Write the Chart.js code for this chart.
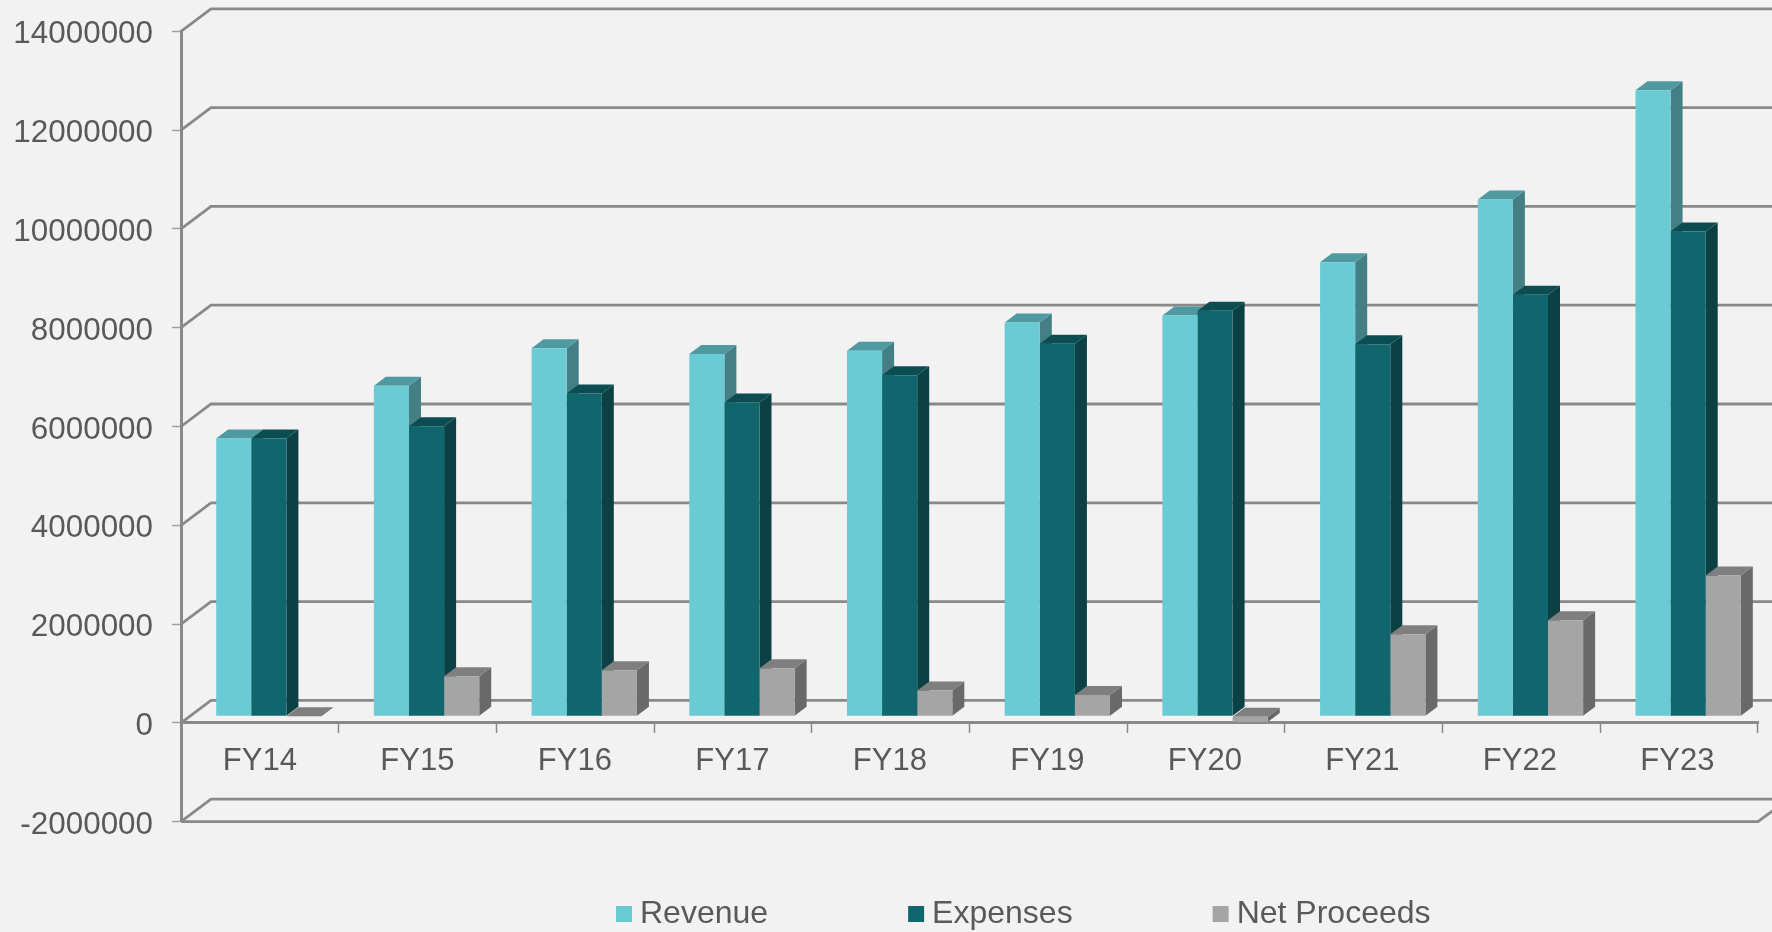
<!DOCTYPE html>
<html>
<head>
<meta charset="utf-8">
<style>
html,body{margin:0;padding:0;background:#f2f2f2;}
#wrap{width:1772px;height:932px;position:relative;}
canvas{display:block;}
</style>
<script src="https://cdn.jsdelivr.net/npm/chart.js@4/dist/chart.umd.min.js"></script>
</head>
<body>
<div id="wrap"><canvas id="c" width="1772" height="932"></canvas></div>
<script>
const categories = ['FY14','FY15','FY16','FY17','FY18','FY19','FY20','FY21','FY22','FY23'];
const revenue  = [5620000,6690000,7450000,7330000,7400000,7970000,8110000,9190000,10460000,12670000];
const expenses = [5620000,5870000,6530000,6350000,6900000,7540000,8210000,7530000,8530000,9810000];
const netProceeds = [0,810000,930000,970000,520000,430000,-115000,1660000,1940000,2850000];
const seriesNames = ['Revenue','Expenses','Net Proceeds'];
const frontColors = ['#6acbd5','#10666c','#a5a5a5'];
const topColors   = ['#4f9aa1','#0c4d52','#7f7f7f'];
const sideColors  = ['#437f85','#0b4145','#696969'];
const yMin = -2000000, yMax = 14000000, yStep = 2000000;

const TEXT = '#595959', LINE = '#898989';
const wall = {dx:30, dy:-22.5};      // depth of the chart's floor and back wall
const barOffset = {dx:9, dy:-6.7};   // where the bars' front face sits inside that depth
const barDepth = {dx:12, dy:9};

function poly(ctx, pts, fill){
  ctx.beginPath();
  pts.forEach((p,i)=> i ? ctx.lineTo(p[0],p[1]) : ctx.moveTo(p[0],p[1]));
  ctx.closePath();
  ctx.fillStyle = fill;
  ctx.fill();
}

const depth3d = {
  id:'depth3d',
  beforeDraw(chart){
    const {ctx, scales:{x,y}} = chart;
    // centre the tick numbers' digits on their tick marks
    y.getLabelItems().forEach(it=>{ it.options.translation[1] += 3.5; });
    x.getLabelItems().forEach((it,i)=>{ it.options.translation[0] -= 0.2*i; });
    ctx.save();
    ctx.strokeStyle = LINE;
    ctx.lineWidth = 2.8;
    ctx.lineJoin = 'miter';
    const L = x.left, R = x.right;
    y.ticks.forEach(t=>{
      const py = y.getPixelForValue(t.value);
      ctx.beginPath();
      ctx.moveTo(L,py);
      ctx.lineTo(L+wall.dx,py+wall.dy);
      ctx.lineTo(R+wall.dx,py+wall.dy);
      ctx.stroke();
    });
    // front edge and right edge of the lowest floor
    const py = y.getPixelForValue(yMin);
    ctx.beginPath();
    ctx.moveTo(L,py);
    ctx.lineTo(R,py);
    ctx.lineTo(R+wall.dx,py+wall.dy);
    ctx.stroke();
    ctx.restore();
  },
  beforeDatasetsDraw(chart){
    const {ctx} = chart;
    categories.forEach((_,i)=>{
      chart.data.datasets.forEach((ds,d)=>{
        const el = chart.getDatasetMeta(d).data[i];
        const w = el.width/2;
        const l = el.x-w+barOffset.dx, r = el.x+w+barOffset.dx;
        const top = Math.min(el.y,el.base)+barOffset.dy;
        const bot = Math.max(el.y,el.base)+barOffset.dy;
        const ddx = barDepth.dx, ddy = barDepth.dy;
        poly(ctx,[[r,top],[r+ddx,top-ddy],[r+ddx,bot-ddy],[r,bot]],sideColors[d]);
        poly(ctx,[[l,top],[l+ddx,top-ddy],[r+ddx,top-ddy],[r,top]],topColors[d]);
      });
    });
    ctx.save();
    ctx.translate(barOffset.dx,barOffset.dy);
  },
  afterDatasetsDraw(chart){
    chart.ctx.restore();
  },
  afterLayout(chart){
    const lg = chart.legend;
    const p = lg.options.labels.padding;
    lg.top = 898 - p;
    lg.bottom = 932;
    lg.right = 1772;
    lg.left = 2*624 - p - lg.right + lg.lineWidths[0];
  }
};

new Chart(document.getElementById('c'),{
  type:'bar',
  plugins:[depth3d],
  data:{
    labels:categories,
    datasets:[revenue,expenses,netProceeds].map((vals,d)=>({
      label:seriesNames[d],
      data:vals,
      backgroundColor:frontColors[d],
      borderWidth:0,
      clip:false
    }))
  },
  options:{
    responsive:false,
    animation:false,
    categoryPercentage:0.668,
    barPercentage:1,
    layout:{padding:{top:31.3,right:14,bottom:0,left:0}},
    scales:{
      x:{
        position:{y:0},
        offset:true,
        grid:{drawOnChartArea:false,drawTicks:true,tickLength:9,tickWidth:1.5,tickColor:LINE,offset:true},
        border:{display:true,color:LINE,width:3},
        ticks:{color:TEXT,font:{family:'Liberation Sans',size:31},padding:11,maxRotation:0,autoSkip:false}
      },
      y:{
        min:yMin,max:yMax,
        afterFit(s){s.width=181;s.paddingTop=0;s.paddingBottom=0;},
        grid:{drawOnChartArea:false,drawTicks:true,tickLength:9,tickWidth:1.5,tickColor:'#a0a0a0'},
        border:{display:true,color:LINE,width:3},
        ticks:{stepSize:yStep,color:TEXT,font:{family:'Liberation Sans',size:31.4},padding:19,callback:v=>String(v)}
      }
    },
    plugins:{
      tooltip:{enabled:false},
      title:{display:false},
      legend:{
        display:true,
        position:'bottom',
        maxHeight:110.3,
        labels:{
          usePointStyle:true,pointStyle:'rect',boxWidth:0.01,boxHeight:16,
          padding:148,color:TEXT,font:{family:'Liberation Sans',size:32}
        }
      }
    }
  }
});
</script>
</body>
</html>
